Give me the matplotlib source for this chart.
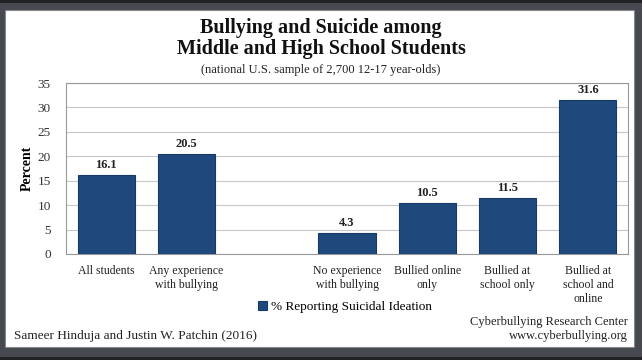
import matplotlib.pyplot as plt
from matplotlib.patches import Rectangle
import numpy as np

categories = ['All students', 'Any experience\nwith bullying', '',
              'No experience\nwith bullying', 'Bullied online\nonly',
              'Bullied at\nschool only', 'Bullied at\nschool and\nonline']
values = [16.1, 20.5, np.nan, 4.3, 10.5, 11.5, 31.6]
series_name = '% Reporting Suicidal Ideation'
yticks = [0, 5, 10, 15, 20, 25, 30, 35]

plt.rcParams['font.family'] = ['Liberation Serif', 'DejaVu Serif']

fig = plt.figure(figsize=(6.42, 3.6), dpi=100)
W, H = 642, 360

# dark frame around the white card
fig.patches.append(Rectangle((0, 0), 1, 1, transform=fig.transFigure,
                             facecolor='#464a50', edgecolor='none', zorder=-3))
fig.patches.append(Rectangle((0, 0), 1, 3 / H, transform=fig.transFigure,
                             facecolor='#202226', edgecolor='none', zorder=-2))
fig.patches.append(Rectangle((0, (H - 3) / H), 1, 3 / H, transform=fig.transFigure,
                             facecolor='#202226', edgecolor='none', zorder=-2))
fig.patches.append(Rectangle((5 / W, 13 / H), 629 / W, 337 / H, transform=fig.transFigure,
                             facecolor='white', edgecolor='#888888', lw=0.8, zorder=-1))

ax = fig.add_axes([66 / W, 1 - 254 / H, 562 / W, 171 / H])
x = np.arange(len(categories))
bars = ax.bar(x, values, width=0.71, color='#1f497d', edgecolor='#163a66',
              linewidth=0.8, label=series_name, zorder=3)
for xi, v in zip(x, values):
    if not np.isnan(v):
        ax.text(xi, v + 0.8, f'{v:.1f}', ha='center', va='bottom',
                fontsize=9, fontweight='bold', color='#222222')

ax.set_xlim(-0.5, len(categories) - 0.5)
ax.set_ylim(0, 35)
ax.set_yticks(yticks)
ax.yaxis.grid(True, color='#c8c8c8', lw=0.8, zorder=0)
ax.set_axisbelow(True)
ax.set_xticks(x)
ax.set_xticklabels(categories, fontsize=8.5, va='top', color='#222222')
ax.tick_params(axis='x', length=0, pad=8)
ax.tick_params(axis='y', length=0, pad=11, labelsize=9.5, labelcolor='#333333')
for s in ax.spines.values():
    s.set_color('#999999')
    s.set_linewidth(0.8)
ax.set_ylabel('Percent', fontsize=10, fontweight='bold')
ax.yaxis.set_label_coords((34 - 66) / 562, 0.5)

ax.legend(loc='center', bbox_to_anchor=(345 / W, 1 - 307 / H),
          bbox_transform=fig.transFigure, frameon=False, fontsize=9.5,
          handlelength=0.7, handleheight=0.7, handletextpad=0.3)

fig.text(321 / W, 1 - 28 / H, 'Bullying and Suicide among', ha='center', va='center',
         fontsize=14.5, fontweight='bold', color='#111111')
fig.text(321 / W, 1 - 49 / H, 'Middle and High School Students', ha='center', va='center',
         fontsize=14.5, fontweight='bold', color='#111111')
fig.text(321 / W, 1 - 70 / H, '(national U.S. sample of 2,700 12-17 year-olds)',
         ha='center', va='center', fontsize=9, color='#222222')

fig.text(14 / W, 1 - 336 / H, 'Sameer Hinduja and Justin W. Patchin (2016)',
         ha='left', va='center', fontsize=9.5, color='#222222')
fig.text(628 / W, 1 - 322 / H, 'Cyberbullying Research Center',
         ha='right', va='center', fontsize=9, color='#222222')
fig.text(628 / W, 1 - 336 / H, 'www.cyberbullying.org',
         ha='right', va='center', fontsize=9, color='#222222')

fig.savefig('out.png', dpi=100)
